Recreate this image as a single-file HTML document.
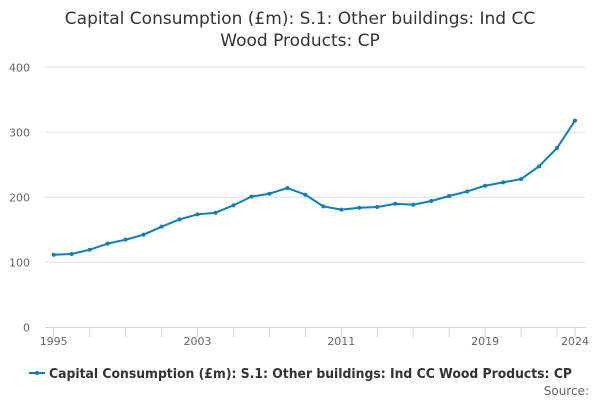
<!DOCTYPE html>
<html><head><meta charset="utf-8"><style>
body{margin:0;background:#fff;}
svg text{font-family:"DejaVu Sans","Liberation Sans",sans-serif;}
</style></head><body>
<svg id="chart" width="600" height="400" xmlns="http://www.w3.org/2000/svg">
<text x="300" y="24" text-anchor="middle" font-size="17" fill="#333">Capital Consumption (£m): S.1: Other buildings: Ind CC</text>
<text x="300" y="46" text-anchor="middle" font-size="17" fill="#333">Wood Products: CP</text>
<g id="grid"></g><g id="xaxis"></g><g id="series"></g>
<g>
<line x1="29" y1="373" x2="45" y2="373" stroke="#0a7fc4" stroke-width="2"/>
<circle cx="37" cy="373" r="2" fill="#0a7fc4"/>
<text x="49" y="378" font-size="13" font-weight="bold" fill="#333" textLength="523" lengthAdjust="spacingAndGlyphs">Capital Consumption (£m): S.1: Other buildings: Ind CC Wood Products: CP</text>
</g>
<text x="589" y="395" text-anchor="end" font-size="12" fill="#666">Source:</text>
</svg>
<script>
const years=[1995,1996,1997,1998,1999,2000,2001,2002,2003,2004,2005,2006,2007,2008,2009,2010,2011,2012,2013,2014,2015,2016,2017,2018,2019,2020,2021,2022,2023,2024];
const values=[111.7,112.8,119.4,128.7,134.8,142.5,154.8,166,173.8,176.3,187.6,201,205.5,214.3,204,186,181,184,185,190,188.6,194.3,202,209,217.8,223,228,247.6,275.8,317.9];
const yTicks=[0,100,200,300,400];
const xLabels=[1995,2003,2011,2019,2024];
const NS="http://www.w3.org/2000/svg";
function xs(y){return 53.7+(y-1995)*(575-53.7)/29;}
function ys(v){return 327.3-v*0.65;}
function mk(t,a,p){const e=document.createElementNS(NS,t);for(const k in a)e.setAttribute(k,a[k]);p.appendChild(e);return e;}
const grid=document.getElementById('grid');
yTicks.forEach(v=>{
 if(v>0){const l=mk('line',{x1:45,x2:585,y1:ys(v),y2:ys(v),stroke:'#e0e0e0','stroke-width':1},grid);
 
 }
 const t=mk('text',{x:30,y:ys(v)+4,'text-anchor':'end','font-size':11,fill:'#666'},grid);t.textContent=v;
 
 
});
const xa=document.getElementById('xaxis');
const ax=mk('line',{x1:45,x2:586,y1:327.5,y2:327.5,stroke:'#ccd6eb','stroke-width':1},xa);


for(let y=1995;y<=2024;y+=2){mk('line',{x1:xs(y),x2:xs(y),y1:327.5,y2:337,stroke:'#ccd6eb','stroke-width':1},xa);}
mk('line',{x1:xs(2024),x2:xs(2024),y1:327.5,y2:337,stroke:'#ccd6eb','stroke-width':1},xa);
xLabels.forEach(y=>{const t=mk('text',{x:xs(y),y:345,'text-anchor':'middle','font-size':11,fill:'#666'},xa);t.textContent=y;
 
 });
const s=document.getElementById('series');
const path=mk('polyline',{points:years.map((y,i)=>xs(y)+','+ys(values[i])).join(' '),fill:'none',stroke:'#0a7fc4','stroke-width':2,'stroke-linejoin':'round'},s);


years.forEach((y,i)=>{const c=mk('circle',{cx:xs(y),cy:ys(values[i]),r:2,fill:'#0a7fc4'},s);
 
 });
</script>
</body></html>
